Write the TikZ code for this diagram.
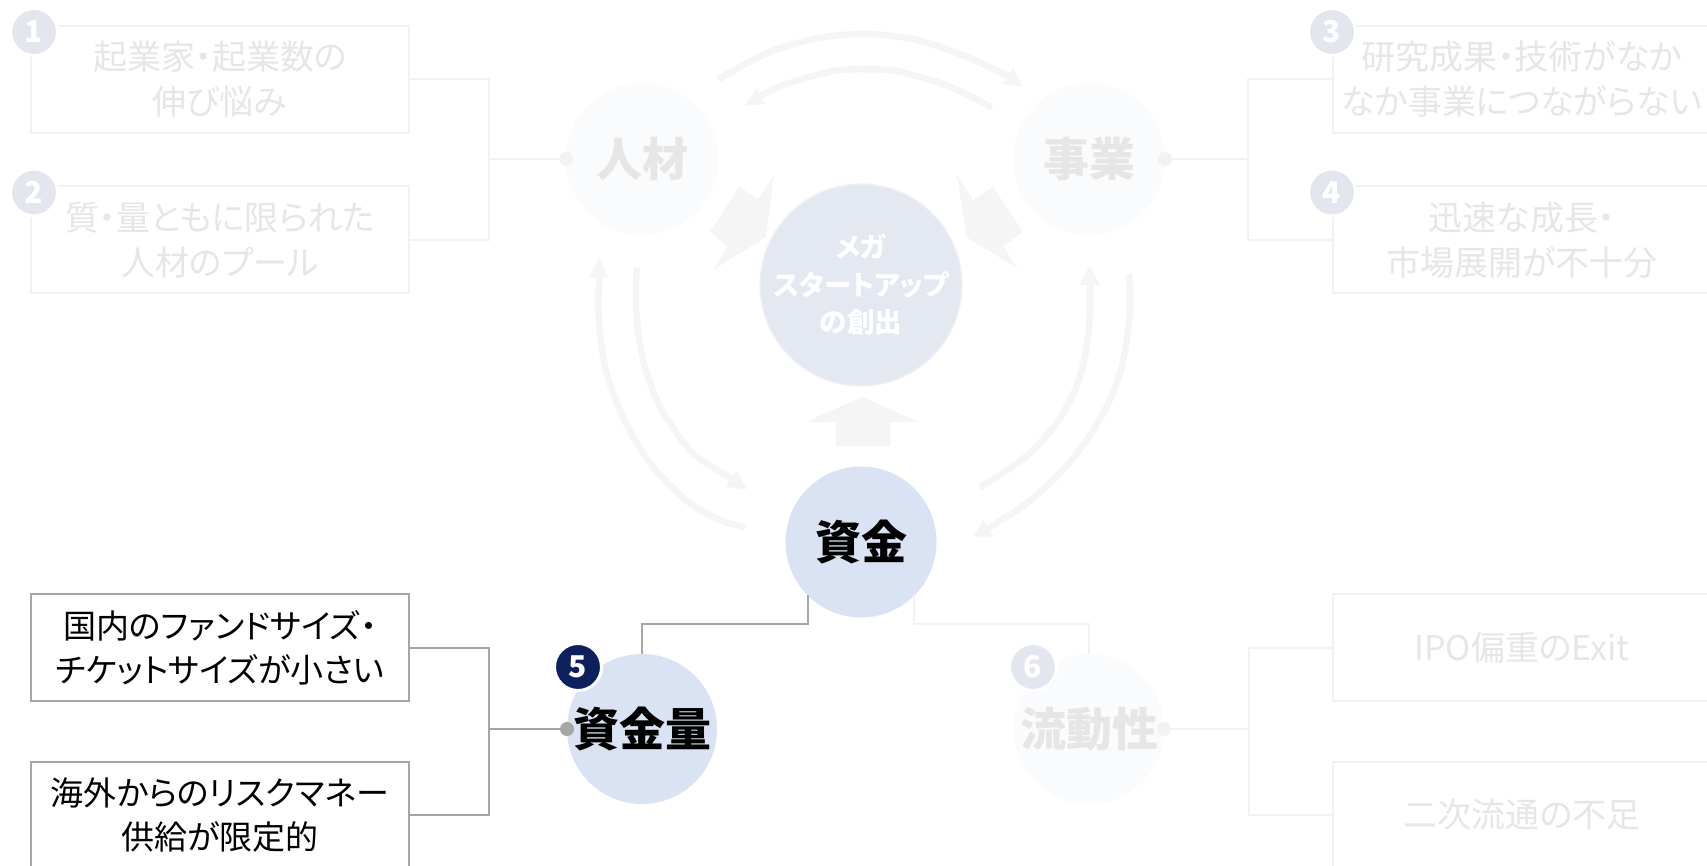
\documentclass[tikz,border=0pt]{standalone}
\usepackage{fontspec}
\setmainfont{Noto Sans CJK JP}[RawFeature=+palt]
\newfontfamily\uifont{Noto Sans CJK JP}[RawFeature=+palt]
\definecolor{fadetext}{HTML}{E6E6E6}
\definecolor{fadeline}{HTML}{F2F2F2}
\definecolor{fadefill}{HTML}{FAFBFD}
\definecolor{fadearrow}{HTML}{F5F5F5}
\definecolor{megafill}{HTML}{E4E8F0}
\definecolor{megaline}{HTML}{EEF0F5}
\definecolor{badgefade}{HTML}{E3E6EE}
\definecolor{activefill}{HTML}{DAE3F3}
\definecolor{navy}{HTML}{0D1F5C}
\definecolor{activeline}{HTML}{A6A6A6}
\begin{document}
\begin{tikzpicture}[x=1pt,y=-1pt,
  fadebox/.style={draw=fadeline, line width=2pt, minimum width=378pt, minimum height=107pt,
    inner sep=0pt, outer sep=0pt, align=center, text=fadetext, font=\fontsize{34}{45}\selectfont},
  activebox/.style={draw=activeline, line width=2pt, minimum width=378pt, minimum height=107pt,
    inner sep=0pt, outer sep=0pt, align=center, text=black, font=\uifont\fontsize{33}{44}\selectfont},
  bigcircle/.style={circle, minimum size=151pt, inner sep=0pt, outer sep=0pt,
    font=\bfseries\fontsize{46}{50}\selectfont},
  fadecircle/.style={bigcircle, fill=fadefill, text=fadetext},
  activecircle/.style={bigcircle, fill=activefill, text=black},
  badge/.style={circle, minimum size=47pt, inner sep=0pt, outer sep=0pt, draw=white,
    line width=3pt, text=white, font=\bfseries\fontsize{30}{30}\selectfont},
  fadebadge/.style={badge, fill=badgefade},
  activebadge/.style={badge, fill=navy},
  fadeconn/.style={draw=fadeline, line width=2pt},
  activeconn/.style={draw=activeline, line width=2pt},
  ringarc/.style={draw=fadearrow, line width=6.5pt},
  tipfill/.style={fill=fadearrow}
]
\useasboundingbox (0,0) rectangle (1707,866);
\fill[white] (0,0) rectangle (1707,866);

% ring arcs
\draw[ringarc] plot[smooth] coordinates {(718.3,79.3) (766.7,53.3) (816.7,38.3) (866.7,34) (916.7,40) (966.7,56.7) (1008.3,76.2)};
\fill[tipfill] (1022.7,86.7) -- (1013.3,68.3) -- (1003.3,84) -- cycle;
\draw[ringarc] plot[smooth] coordinates {(991.7,107.3) (950,86.7) (900,71.7) (866.7,69.3) (833.3,71) (783.3,85) (760.8,96.2)};
\fill[tipfill] (745,106) -- (756.7,88.3) -- (765,104) -- cycle;
\draw[ringarc] plot[smooth] coordinates {(599.3,277) (598.3,306.7) (600.7,340) (606.7,373.3) (618.3,406.7) (635,440) (658.3,473.3) (690,503.3) (720,520) (745,527.3)};
\fill[tipfill] (599.3,257.3) -- (589,277) -- (608,277) -- cycle;
\draw[ringarc] plot[smooth] coordinates {(636.7,267.3) (636,306.7) (639.3,340) (646.7,373.3) (660,406.7) (681.7,440) (696.7,456.7) (730.7,478.3)};
\fill[tipfill] (746.7,489.3) -- (736,470) -- (725.7,486.7) -- cycle;
\draw[ringarc] plot[smooth] coordinates {(1090,285) (1089.3,323) (1085,356.7) (1075,390) (1056.7,423) (1030,453) (1003,473) (980,487.3)};
\fill[tipfill] (1089.3,266) -- (1080,285) -- (1100,285) -- cycle;
\draw[ringarc] plot[smooth] coordinates {(1129,274) (1130,306.7) (1126.7,340) (1120,373.3) (1106.7,406.7) (1086.7,440) (1060,473.3) (1026.7,503.3) (988.3,528.3)};
\fill[tipfill] (973.3,536.7) -- (983.3,520) -- (993.3,536.7) -- cycle;

% block arrows
\fill[tipfill] (774,175) -- (758,199) -- (739,187) -- (710,232) -- (728,246) -- (713,270) -- (766,237) -- cycle;
\fill[tipfill] (957,175) -- (973,200) -- (993,187) -- (1023,232) -- (1003,246) -- (1018,269) -- (966.5,237) -- cycle;
\fill[tipfill] (862,397) -- (918.6,422) -- (890,422) -- (890,446) -- (835.5,446) -- (835.5,422) -- (806,422) -- cycle;

% circles
\node[fadecircle, minimum size=152pt] (hr) at (642,159) {人材};
\node[fadecircle, minimum size=152pt] (biz) at (1089,159) {事業};
\node[circle, minimum size=188pt, inner sep=0pt, outer sep=0pt, fill=megafill, draw=megaline, line width=1.5pt,
  text=white, align=center, font=\bfseries\fontsize{27.5}{37.5}\selectfont] (mega) at (861,285) {メガ\\スタートアップ\\の創出};
\node[activecircle] (fund) at (861,542) {資金};
\node[activecircle, minimum size=150pt] (vol) at (642,729) {資金量};
\node[fadecircle, minimum size=150pt] (liq) at (1089,729) {流動性};

% boxes
\node[fadebox] (b1) at (220,79.5) {起業家・起業数の\\伸び悩み};
\node[fadebox] (b2) at (220,240) {質・量ともに限られた\\人材のプール};
\node[fadebox] (b3) at (1522,79.5) {研究成果・技術がなか\\なか事業につながらない};
\node[fadebox] (b4) at (1522,240) {迅速な成長・\\市場展開が不十分};
\node[activebox] (bA) at (220,647.5) {国内のファンドサイズ・\\チケットサイズが小さい};
\node[activebox] (bB) at (220,815) {海外からのリスクマネー\\供給が限定的};
\node[fadebox] (b5) at (1522,647.5) {IPO偏重のExit};
\node[fadebox] (b6) at (1522,815) {二次流通の不足};

% junctions
\coordinate (j1) at (488.6,159);
\coordinate (j3) at (1248,159);
\coordinate (j5) at (488.6,729);
\coordinate (j6) at (1249,729);

% faded connectors
\draw[fadeconn] (b1.east) -| (j1) |- (b2.east);
\draw[fadeconn] (j1) -- (hr.west);
\draw[fadeconn] (b3.west) -| (j3) |- (b4.west);
\draw[fadeconn] (j3) -- (biz.east);
\draw[fadeconn] (b5.west) -| (j6) |- (b6.west);
\draw[fadeconn] (j6) -- (liq.east);
\draw[fadeconn] (fund.315) -- ++(0,29) -| (liq.north);
\fill[fadeline] (hr.west) circle (7pt);
\fill[fadeline] (biz.east) circle (7pt);
\fill[fadeline] (liq.east) circle (7pt);

% active connectors
\draw[activeconn] (bA.east) -| (j5) |- (bB.east);
\draw[activeconn] (j5) -- (vol.west);
\draw[activeconn] (fund.225) -- ++(0,29) -| (vol.north);
\fill[activeline] (vol.west) circle (7pt);

% badges
\node[fadebadge] (n1) at (34,32) {1};
\node[fadebadge] (n2) at (34,192.5) {2};
\node[fadebadge] (n3) at (1332,32) {3};
\node[fadebadge] (n4) at (1332,192.5) {4};
\node[activebadge] (n5) at (578,667) {5};
\node[fadebadge] (n6) at (1033,667) {6};
\end{tikzpicture}
\end{document}
